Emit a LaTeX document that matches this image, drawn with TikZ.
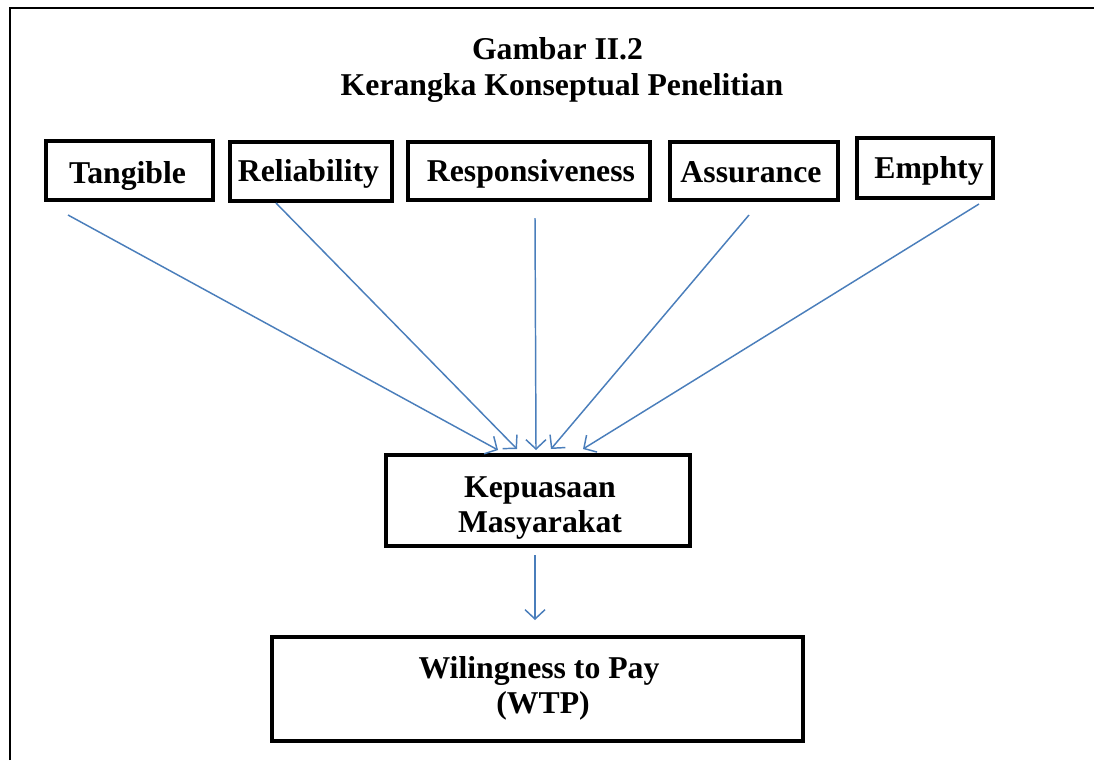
\documentclass[tikz,border=0pt]{standalone}
\usepackage{fontspec}
\setmainfont{Liberation Serif}
\usetikzlibrary{arrows.meta}
\definecolor{arrowblue}{RGB}{74,126,187}
\begin{document}
\begin{tikzpicture}[x=0.75pt,y=-0.75pt,
  box/.style={draw=black,line width=2.3pt,inner sep=0pt},
  txt/.style={anchor=base,inner sep=0pt,font=\fontsize{23.8pt}{25pt}\selectfont\bfseries},
  arr/.style={draw=arrowblue,line width=1.1pt,-{Straight Barb[length=7pt,width=15pt,line width=1.1pt]}}]
\useasboundingbox (0,0) rectangle (1094,760);
% outer frame (left and top sides visible)
\draw[line width=1.5pt] (10,760) -- (10,8) -- (1094,8);
% title
\node[txt] (title1) at (557.5,59.5) {Gambar II.2};
\node[txt] (title2) at (562,95) {Kerangka Konseptual Penelitian};
% top boxes
\node[box,minimum width=167*0.75pt,minimum height=59*0.75pt] (tan) at (129.5,170.5) {};
\node[box,minimum width=162*0.75pt,minimum height=59*0.75pt] (rel) at (311,171.5) {};
\node[box,minimum width=242*0.75pt,minimum height=58*0.75pt] (res) at (529,171) {};
\node[box,minimum width=168*0.75pt,minimum height=58*0.75pt] (ass) at (754,171) {};
\node[box,minimum width=136*0.75pt,minimum height=60*0.75pt] (emp) at (925,168) {};
\node[txt] (tanT) at (127.5,183) {Tangible};
\node[txt] (relT) at (308.5,181.5) {Reliability};
\node[txt] (resT) at (531,181.5) {Responsiveness};
\node[txt] (assT) at (751,182) {Assurance};
\node[txt] (empT) at (929,178.5) {Emphty};
% middle and bottom boxes
\node[box,minimum width=304*0.75pt,minimum height=91*0.75pt] (kep) at (538,500.5) {};
\node[box,minimum width=531*0.75pt,minimum height=104*0.75pt] (wtp) at (537.5,689) {};
\node[txt] (kepT1) at (540,497) {Kepuasaan};
\node[txt] (kepT2) at (540,532) {Masyarakat};
\node[txt] (wtpT1) at (539,678) {Wilingness to Pay};
\node[txt] (wtpT2) at (543,713.5) {(WTP)};
% arrow endpoints
\coordinate (s1) at (68,215);
\coordinate (s2) at (276,203);
\coordinate (s3) at (535,218);
\coordinate (s4) at (749,215);
\coordinate (s5) at (979,204);
\coordinate (e1) at (498,450);
\coordinate (e2) at (517,449);
\coordinate (e3) at (536,450);
\coordinate (e4) at (551,449);
\coordinate (e5) at (583,449);
\coordinate (s6) at (535,555);
\coordinate (e6) at (535,620);
\draw[arr] (s1) -- (e1);
\draw[arr] (s2) -- (e2);
\draw[arr] (s3) -- (e3);
\draw[arr] (s4) -- (e4);
\draw[arr] (s5) -- (e5);
\draw[arr] (s6) -- (e6);
\end{tikzpicture}
\end{document}
